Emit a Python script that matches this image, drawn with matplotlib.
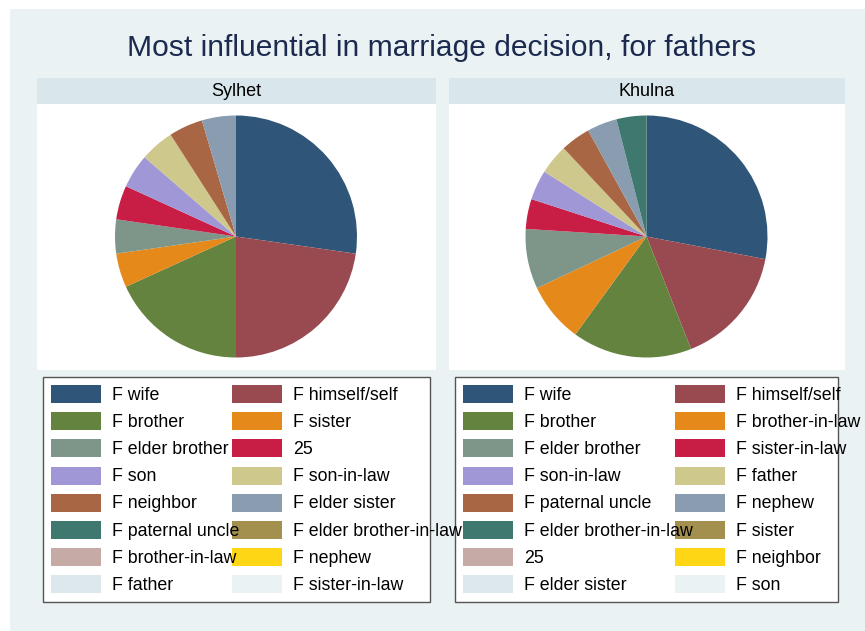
import matplotlib
matplotlib.use("Agg")
import matplotlib.pyplot as plt
from matplotlib.patches import Rectangle

plt.rcParams['font.family'] = ['Liberation Sans', 'DejaVu Sans']

title = "Most influential in marriage decision, for fathers"
panels = ["Sylhet", "Khulna"]

sylhet_labels = ["F wife", "F himself/self", "F brother", "F sister", "F elder brother", "25",
                 "F son", "F son-in-law", "F neighbor", "F elder sister", "F paternal uncle",
                 "F elder brother-in-law", "F brother-in-law", "F nephew", "F father", "F sister-in-law"]
sylhet_values = [6, 5, 4, 1, 1, 1, 1, 1, 1, 1, 0, 0, 0, 0, 0, 0]

khulna_labels = ["F wife", "F himself/self", "F brother", "F brother-in-law", "F elder brother",
                 "F sister-in-law", "F son-in-law", "F father", "F paternal uncle", "F nephew",
                 "F elder brother-in-law", "F sister", "25", "F neighbor", "F elder sister", "F son"]
khulna_values = [7, 4, 4, 2, 2, 1, 1, 1, 1, 1, 1, 0, 0, 0, 0, 0]

colors = ["#2f5679", "#984a50", "#64833f", "#e6891b", "#7e9689", "#c81e46",
          "#a098d6", "#cfc88c", "#a86645", "#899cb0", "#3f786e", "#a3904f",
          "#c6aaa5", "#ffd616", "#dde8ed", "#ebf2f4"]

W, H = 865, 631
fig = plt.figure(figsize=(W / 100, H / 100), dpi=100)
fig.patch.set_facecolor("white")


def rect_px(x0, y0, x1, y1):
    return [x0 / W, 1 - y1 / H, (x1 - x0) / W, (y1 - y0) / H]


bg = fig.add_axes([0, 0, 1, 1])
bg.set_xlim(0, W)
bg.set_ylim(H, 0)
bg.axis("off")
bg.add_patch(Rectangle((10, 9), W - 10, H - 9, facecolor="#eaf2f3", edgecolor="none"))

bg.text(442, 48.5, title, ha="center", va="center", fontsize=21.6, color="#1c2a4f")

panel_x = [(37, 436), (449, 845)]
centers = [(236, 236.5), (646.5, 236.5)]
radius = 121
data = [(sylhet_labels, sylhet_values), (khulna_labels, khulna_values)]
legend_boxes = [(43, 377, 430, 602), (455, 377, 838, 602)]

for i, (name, (labs, vals)) in enumerate(zip(panels, data)):
    x0, x1 = panel_x[i]
    # strip
    bg.add_patch(Rectangle((x0, 78), x1 - x0, 26, facecolor="#d9e6eb", edgecolor="none"))
    bg.text((x0 + x1) / 2, 91, name, ha="center", va="center", fontsize=13, color="black")
    # white plot region
    bg.add_patch(Rectangle((x0, 104), x1 - x0, 266, facecolor="white", edgecolor="none"))
    # pie
    cx, cy = centers[i]
    ax = fig.add_axes(rect_px(cx - radius, cy - radius, cx + radius, cy + radius))
    ax.pie(vals, colors=colors, startangle=90, counterclock=False, radius=1,
           wedgeprops=dict(linewidth=0.3, edgecolor="none"))
    ax.set_xlim(-1, 1)
    ax.set_ylim(-1, 1)
    ax.set_aspect("equal")
    ax.axis("off")
    # legend box
    lx0, ly0, lx1, ly1 = legend_boxes[i]
    bg.add_patch(Rectangle((lx0, ly0), lx1 - lx0, ly1 - ly0, facecolor="white",
                           edgecolor="#555555", linewidth=1.0, zorder=2))
    col_patch_x = [lx0 + 8, lx0 + 189] if i == 0 else [lx0 + 8, lx0 + 220]
    for j, lab in enumerate(labs):
        r, c = divmod(j, 2)
        yc = 394 + r * 27.2
        px = col_patch_x[c]
        bg.add_patch(Rectangle((px, yc - 9), 50, 18, facecolor=colors[j],
                               edgecolor="none", zorder=3))
        bg.text(px + 61, yc + 1, lab, ha="left", va="center", fontsize=12.8,
                color="black", zorder=4)

fig.savefig("out.png", dpi=100, facecolor=fig.get_facecolor())
